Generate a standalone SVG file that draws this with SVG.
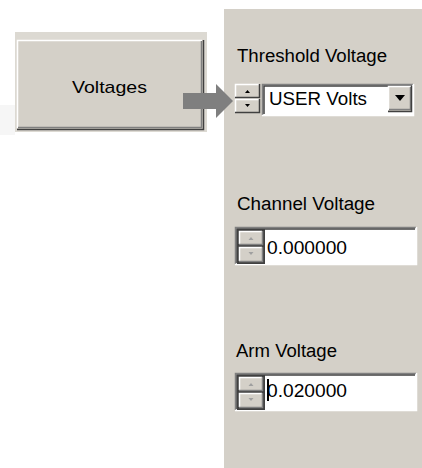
<svg xmlns="http://www.w3.org/2000/svg" width="422" height="468" viewBox="0 0 422 468">
<style>
text{font-family:"Liberation Sans",Arial,sans-serif;fill:#000}
.lbl{font-size:18px}
.val{font-size:18px}
.face{fill:#d4d0c8}
.hi{stroke:#ffffff;stroke-width:1.5;fill:none}
.sh{stroke:#808080;stroke-width:1.5;fill:none}
.dk{stroke:#404040;stroke-width:1.5;fill:none}
.tri{fill:#000}
.tril{fill:#a0a0a0}
</style>
<rect width="422" height="468" fill="#ffffff"/>
<rect x="0" y="105" width="15" height="30" fill="#f6f6f6"/>

<g id="voltages-button">
<rect x="15" y="32" width="192" height="100" fill="#dcd9d2"/>
<rect x="17" y="40" width="186" height="89" class="face"/>
<path class="hi" d="M17.5 128 V40.5 H202"/>
<path class="sh" d="M18 127.5 H201.5 V41"/>
<path class="dk" d="M17 129.5 H203.5 V40"/>
<text x="72" y="93" font-size="17" textLength="75" lengthAdjust="spacingAndGlyphs">Voltages</text>
</g>

<g id="panel">
<rect x="224" y="9" width="198" height="459" class="face"/>
</g>

<g id="threshold">
<text class="lbl" x="237" y="62" textLength="150" lengthAdjust="spacingAndGlyphs">Threshold Voltage</text>
<g id="threshold-spin">
<rect x="235" y="84" width="25" height="14" class="face"/>
<path class="hi" d="M235.5 97 V84.5 H259"/>
<path class="dk" d="M235 97.5 H259.5 V84"/>
<path class="tri" d="M245 93 L250 93 L247.5 90 Z"/>
<rect x="235" y="99" width="25" height="14" class="face"/>
<path class="hi" d="M235.5 112 V99.5 H259"/>
<path class="dk" d="M235 112.5 H259.5 V99"/>
<path class="tri" d="M245 104 L250 104 L247.5 107 Z"/>
</g>
<g id="threshold-combo">
<rect x="262" y="84" width="152" height="32" fill="#ffffff"/>
<path class="sh" d="M262.5 115 V84.5 H413"/>
<path class="dk" d="M264 114 V86 H412"/>
<path class="hi" d="M262 115.5 H413.5 V84"/>
<text class="val" x="269" y="105" font-size="19" textLength="98" lengthAdjust="spacingAndGlyphs">USER Volts</text>
<rect x="388" y="86" width="24" height="25" class="face"/>
<path class="hi" d="M388.5 110 V86.5 H411"/>
<path class="sh" d="M389 109.5 H410.5 V87"/>
<path class="dk" d="M388 111.5 H411.5 V86"/>
<path class="tri" d="M395 95 L405 95 L400 101 Z"/>
</g>
</g>

<g id="channel">
<text class="lbl" x="237" y="210" textLength="138" lengthAdjust="spacingAndGlyphs">Channel Voltage</text>
<rect x="235" y="227" width="182" height="38" fill="#ffffff"/>
<path class="sh" d="M235.5 264 V227.5 H416"/>
<path class="dk" d="M237 263 V229 H415"/>
<path class="hi" d="M235 264.5 H416.5 V227"/>
<rect x="237" y="229" width="28" height="35" fill="#404040"/>
<rect x="239" y="231" width="24" height="14" class="face"/>
<path class="hi" d="M239.5 244 V231.5 H262"/>
<path class="sh" d="M239 244.5 H262.5 V231"/>
<path class="tril" d="M248.5 240 L253.5 240 L251 237 Z"/>
<rect x="239" y="247" width="24" height="15" class="face"/>
<path class="hi" d="M239.5 261 V247.5 H262"/>
<path class="sh" d="M239 261.5 H262.5 V247"/>
<path class="tril" d="M248.5 252 L253.5 252 L251 255 Z"/>
<text class="val" x="267" y="254" textLength="80" lengthAdjust="spacingAndGlyphs">0.000000</text>
</g>

<g id="arm">
<text class="lbl" x="236" y="357" textLength="101" lengthAdjust="spacingAndGlyphs">Arm Voltage</text>
<rect x="235" y="373" width="182" height="38" fill="#ffffff"/>
<path class="sh" d="M235.5 410 V373.5 H416"/>
<path class="dk" d="M237 409 V375 H415"/>
<path class="hi" d="M235 410.5 H416.5 V373"/>
<rect x="237" y="375" width="28" height="35" fill="#404040"/>
<rect x="239" y="377" width="24" height="14" class="face"/>
<path class="hi" d="M239.5 390 V377.5 H262"/>
<path class="sh" d="M239 390.5 H262.5 V377"/>
<path class="tril" d="M248.5 386 L253.5 386 L251 383 Z"/>
<rect x="239" y="393" width="24" height="15" class="face"/>
<path class="hi" d="M239.5 407 V393.5 H262"/>
<path class="sh" d="M239 407.5 H262.5 V393"/>
<path class="tril" d="M248.5 398 L253.5 398 L251 401 Z"/>
<text class="val" x="267" y="397" textLength="80" lengthAdjust="spacingAndGlyphs">0.020000</text>
<rect x="267" y="379" width="2" height="22" fill="#000"/>
</g>

<g id="connectors">
<path d="M183 93 H216 V84 L233 101 L216 118 V109 H183 Z" fill="#7f7f7f"/>
</g>
</svg>
